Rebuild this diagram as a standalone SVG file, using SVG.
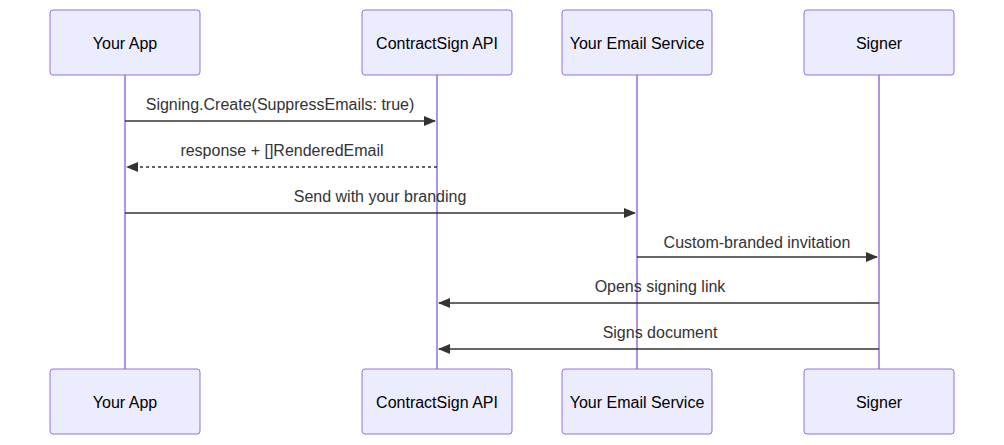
<svg xmlns="http://www.w3.org/2000/svg" width="1004" height="445" viewBox="0 0 1004 445">
<defs>
<style>
.actor{fill:#ECECFF;stroke:#9370DB;stroke-width:1}
.at{font-family:"Liberation Sans",Arial,sans-serif;font-size:16px;fill:#000;text-anchor:middle;dominant-baseline:central}
.life{stroke:#9370DB;stroke-width:1.5}
.msg{stroke:#333;stroke-width:1.5;fill:none}
.ml{font-family:"Liberation Sans",Arial,sans-serif;font-size:16px;fill:#333;text-anchor:middle}
</style>
<marker id="ah" viewBox="0 0 12 10" refX="11" refY="5" markerWidth="12" markerHeight="10" orient="auto" markerUnits="userSpaceOnUse"><path d="M0,0 L12,5 L0,10 z" fill="#333"/></marker>
</defs>
<rect width="1004" height="445" fill="#fff"/>
<g id="lifelines">
<line class="life" x1="125" y1="75" x2="125" y2="369"/>
<line class="life" x1="437" y1="75" x2="437" y2="369"/>
<line class="life" x1="637" y1="75" x2="637" y2="369"/>
<line class="life" x1="879" y1="75" x2="879" y2="369"/>
</g>
<g id="app"><rect class="actor" x="50" y="10" width="150" height="65" rx="3"/><text class="at" x="125" y="43">Your App</text><rect class="actor" x="50" y="369" width="150" height="65" rx="3"/><text class="at" x="125" y="402">Your App</text></g>
<g id="api"><rect class="actor" x="362" y="10" width="150" height="65" rx="3"/><text class="at" x="437" y="43">ContractSign API</text><rect class="actor" x="362" y="369" width="150" height="65" rx="3"/><text class="at" x="437" y="402">ContractSign API</text></g>
<g id="email"><rect class="actor" x="562" y="10" width="150" height="65" rx="3"/><text class="at" x="637" y="43">Your Email Service</text><rect class="actor" x="562" y="369" width="150" height="65" rx="3"/><text class="at" x="637" y="402">Your Email Service</text></g>
<g id="signer"><rect class="actor" x="804" y="10" width="150" height="65" rx="3"/><text class="at" x="879" y="43">Signer</text><rect class="actor" x="804" y="369" width="150" height="65" rx="3"/><text class="at" x="879" y="402">Signer</text></g>
<g id="connectors">
<line class="msg" x1="125" y1="121" x2="435" y2="121" marker-end="url(#ah)"/>
<text class="ml" x="280" y="110">Signing.Create(SuppressEmails: true)</text>
<line class="msg" x1="437" y1="167" x2="127" y2="167" stroke-dasharray="3,3" marker-end="url(#ah)"/>
<text class="ml" x="282" y="156">response + []RenderedEmail</text>
<line class="msg" x1="125" y1="213" x2="635" y2="213" marker-end="url(#ah)"/>
<text class="ml" x="380" y="202">Send with your branding</text>
<line class="msg" x1="637" y1="257" x2="877" y2="257" marker-end="url(#ah)"/>
<text class="ml" x="757" y="248">Custom-branded invitation</text>
<line class="msg" x1="879" y1="303" x2="439" y2="303" marker-end="url(#ah)"/>
<text class="ml" x="660" y="292">Opens signing link</text>
<line class="msg" x1="879" y1="349" x2="439" y2="349" marker-end="url(#ah)"/>
<text class="ml" x="660" y="338">Signs document</text>
</g>
</svg>
